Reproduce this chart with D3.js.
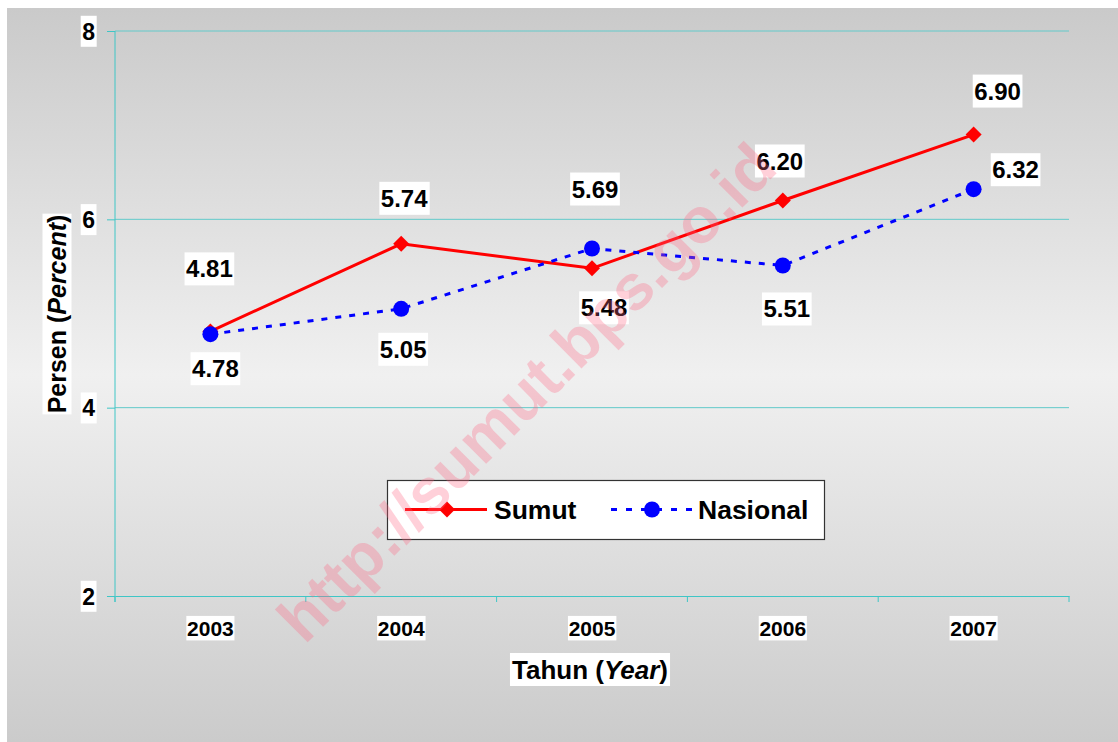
<!DOCTYPE html>
<html>
<head>
<meta charset="utf-8">
<script src="https://cdn.jsdelivr.net/npm/d3@7"></script>
<style>
  html, body { margin: 0; padding: 0; background: #ffffff; }
  svg { display: block; }
  text { font-family: "Liberation Sans", Arial, sans-serif; font-weight: bold; }
</style>
</head>
<body>
<script>
// ---- data ----
const years = ["2003", "2004", "2005", "2006", "2007"];
const sumut = [4.81, 5.74, 5.48, 6.20, 6.90];
const nasional = [4.78, 5.05, 5.69, 5.51, 6.32];
const yTicks = [2, 4, 6, 8];
const seriesNames = ["Sumut", "Nasional"];

// ---- label placement (offsets from the point, layout only) ----
const sumutLabelOffset = [[-1, -62], [3, -45], [12, 40], [-3, -39], [24, -43]];
const nasionalLabelOffset = [[5, 35], [2, 41], [3, -59], [4, 44], [42, -19]];

const W = 1118, H = 742;
const svg = d3.select("body").append("svg").attr("width", W).attr("height", H);

// background gradient
const defs = svg.append("defs");
const grad = defs.append("linearGradient").attr("id", "bg").attr("x1", 0).attr("y1", 0).attr("x2", 0).attr("y2", 1);
grad.append("stop").attr("offset", "0%").attr("stop-color", "#cacaca");
grad.append("stop").attr("offset", "50%").attr("stop-color", "#f0f0f0");
grad.append("stop").attr("offset", "100%").attr("stop-color", "#cbcbcb");
svg.append("rect").attr("x", 7).attr("y", 8).attr("width", W - 7).attr("height", H - 8).attr("fill", "url(#bg)");

const plot = { left: 115, right: 1069, top: 31, bottom: 596 };
const x = d3.scaleBand().domain(years).range([plot.left, plot.right]);
const y = d3.scaleLinear().domain([2, 8]).range([plot.bottom, plot.top]);
const cx = d => x(d) + x.bandwidth() / 2;

const axisColor = "#3fc6c6";
const gridColor = "#62caca";

function boxify(sel, px, pt, pb) {
  sel.each(function () {
    const b = this.getBBox();
    d3.select(this.parentNode).insert("rect", () => this)
      .attr("x", b.x - px).attr("y", b.y - pt)
      .attr("width", b.width + 2 * px).attr("height", b.height + pt + pb)
      .attr("fill", "#ffffff");
  });
}

// gridlines
svg.append("g").selectAll("line").data(yTicks.filter(t => t > 2)).join("line")
  .attr("x1", plot.left).attr("x2", plot.right)
  .attr("y1", d => y(d)).attr("y2", d => y(d))
  .attr("stroke", gridColor).attr("stroke-width", 1);

// y axis
const yAxisG = svg.append("g").attr("transform", `translate(${plot.left},0)`)
  .call(d3.axisLeft(y).tickValues(yTicks).tickSize(8).tickSizeOuter(0).tickPadding(12).tickFormat(d3.format("d")));
yAxisG.select(".domain").remove();
yAxisG.selectAll(".tick line").attr("stroke", axisColor);
yAxisG.selectAll(".tick text").attr("font-size", 23).attr("fill", "#000")
  .attr("font-family", "Liberation Sans, Arial, sans-serif").attr("font-weight", "bold").attr("dy", "0.36em");
boxify(yAxisG.selectAll(".tick text"), 1.5, 3, 2);
svg.append("line").attr("x1", plot.left).attr("x2", plot.left).attr("y1", plot.top).attr("y2", plot.bottom + 6)
  .attr("stroke", axisColor).attr("stroke-width", 1);

// x axis
const xAxisG = svg.append("g").attr("transform", `translate(0,${plot.bottom})`)
  .call(d3.axisBottom(x).tickSize(0).tickSizeOuter(0).tickPadding(25));
xAxisG.select(".domain").attr("stroke", axisColor);
xAxisG.selectAll(".tick text").attr("font-size", 21).attr("fill", "#000")
  .attr("font-family", "Liberation Sans, Arial, sans-serif").attr("font-weight", "bold").attr("dy", "0.71em");
boxify(xAxisG.selectAll(".tick text"), 0.7, 1, 0.5);
const boundaries = years.map(d => x(d)).concat([x.range()[1]]);
svg.append("g").selectAll("line").data(boundaries).join("line")
  .attr("x1", d => d).attr("x2", d => d).attr("y1", plot.bottom).attr("y2", plot.bottom + 6)
  .attr("stroke", axisColor);

// axis titles
const xt = svg.append("g");
const xtText = xt.append("text").attr("x", 590).attr("y", 679).attr("text-anchor", "middle").attr("font-size", 26);
xtText.append("tspan").text("Tahun (");
xtText.append("tspan").attr("font-style", "italic").text("Year");
xtText.append("tspan").text(")");
boxify(xtText, 2, 2, 1);

const yt = svg.append("g").attr("transform", "translate(66,314) rotate(-90)");
const ytText = yt.append("text").attr("x", 0).attr("y", 0).attr("text-anchor", "middle").attr("font-size", 25);
ytText.append("tspan").text("Persen (");
ytText.append("tspan").attr("font-style", "italic").text("Percent");
ytText.append("tspan").text(")");
boxify(ytText, 1, 0.5, 0.5);

// series lines
const line = d3.line().x((d, i) => cx(years[i])).y(d => y(d));
svg.append("path").datum(sumut).attr("d", line).attr("fill", "none")
  .attr("stroke", "#ff0000").attr("stroke-width", 3);
svg.append("g").selectAll("path").data(sumut).join("path")
  .attr("d", d3.symbol().type(d3.symbolSquare).size(128))
  .attr("transform", (d, i) => `translate(${cx(years[i])},${y(d)}) rotate(45)`)
  .attr("fill", "#ff0000");

svg.append("path").datum(nasional).attr("d", line).attr("fill", "none")
  .attr("stroke", "#0000ff").attr("stroke-width", 3).attr("stroke-dasharray", "6,8");
svg.append("g").selectAll("circle").data(nasional).join("circle")
  .attr("cx", (d, i) => cx(years[i])).attr("cy", d => y(d)).attr("r", 8)
  .attr("fill", "#0000ff");

// data labels
function labels(values, offsets) {
  const g = svg.append("g");
  values.forEach((v, i) => {
    const lg = g.append("g");
    const t = lg.append("text")
      .attr("x", cx(years[i]) + offsets[i][0])
      .attr("y", y(v) + offsets[i][1] + 8)
      .attr("text-anchor", "middle").attr("font-size", 24).attr("fill", "#000")
      .text(d3.format(".2f")(v));
    boxify(t, 1.5, 3, 3);
  });
}
labels(sumut, sumutLabelOffset);
labels(nasional, nasionalLabelOffset);

// legend
const lg = svg.append("g");
lg.append("rect").attr("x", 387.5).attr("y", 480.5).attr("width", 437).attr("height", 59)
  .attr("fill", "#fff").attr("stroke", "#333").attr("stroke-width", 1.2);
const ly = 509.5;
lg.append("line").attr("x1", 405).attr("x2", 487).attr("y1", ly).attr("y2", ly)
  .attr("stroke", "#ff0000").attr("stroke-width", 3);
lg.append("path").attr("d", d3.symbol().type(d3.symbolSquare).size(128))
  .attr("transform", `translate(447,${ly}) rotate(45)`).attr("fill", "#ff0000");
lg.append("text").attr("x", 494).attr("y", 519).attr("font-size", 26.5).text(seriesNames[0]);
lg.append("line").attr("x1", 611).attr("x2", 693).attr("y1", ly).attr("y2", ly)
  .attr("stroke", "#0000ff").attr("stroke-width", 3).attr("stroke-dasharray", "6,9");
lg.append("circle").attr("cx", 652).attr("cy", ly).attr("r", 8).attr("fill", "#0000ff");
lg.append("text").attr("x", 698).attr("y", 519).attr("font-size", 26.5).text(seriesNames[1]);

// watermark
svg.append("text").attr("transform", "translate(542,408) rotate(-45)")
  .attr("text-anchor", "middle").attr("font-size", 64)
  .attr("fill", "rgb(255,100,130)").attr("fill-opacity", 0.3)
  .text("http://sumut.bps.go.id");
</script>
</body>
</html>
